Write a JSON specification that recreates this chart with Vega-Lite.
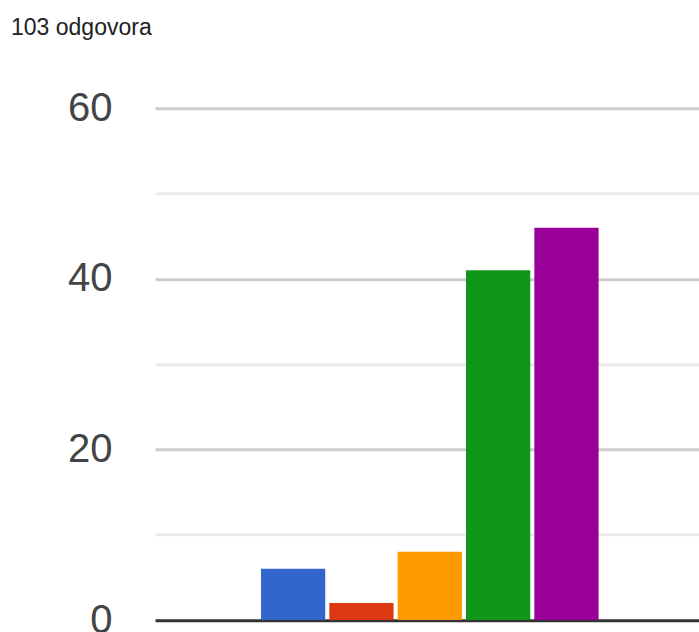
{
  "$schema": "https://vega.github.io/schema/vega-lite/v6.json",
  "autosize": {"type": "none"},
  "padding": {"left": 155, "top": 108.3, "right": 0, "bottom": 12},
  "width": 544,
  "height": 511.7,
  "background": "#ffffff",
  "title": {
    "text": "103 odgovora",
    "anchor": "start",
    "frame": "group",
    "orient": "top",
    "dx": -144,
    "dy": -48,
    "font": "Liberation Sans",
    "fontSize": 23,
    "fontWeight": "normal",
    "color": "#202124",
    "offset": 0
  },
  "data": {
    "values": [
      {"option": "1", "count": 6},
      {"option": "2", "count": 2},
      {"option": "3", "count": 8},
      {"option": "4", "count": 41},
      {"option": "5", "count": 46}
    ]
  },
  "mark": {"type": "bar"},
  "encoding": {
    "x": {
      "field": "option",
      "type": "nominal",
      "sort": null,
      "scale": {"domain": ["_a", "1", "2", "3", "4", "5", "_b"], "paddingInner": 0.06, "paddingOuter": 0.51, "align": 0.54},
      "axis": {
        "title": null,
        "labels": false,
        "ticks": false,
        "domain": false,
        "grid": false
      }
    },
    "y": {
      "field": "count",
      "type": "quantitative",
      "scale": {"domain": [0, 60], "nice": false},
      "axis": {
        "title": null,
        "values": [0, 10, 20, 30, 40, 50, 60],
        "labelExpr": "datum.value % 20 === 0 ? datum.label : ''",
        "labelFont": "Liberation Sans",
        "labelFontSize": 40,
        "labelColor": "#444444",
        "labelPadding": 43,
        "ticks": false,
        "tickSize": 0,
        "domain": false,
        "grid": true,
        "gridColor": {"condition": [{"test": "datum.value === 0", "value": "#333333"}, {"test": "datum.value % 20 === 0", "value": "#cccccc"}], "value": "#ebebeb"},
        "gridWidth": 3,
        "labelBaseline": "middle"
      }
    },
    "color": {
      "field": "option",
      "type": "nominal",
      "sort": null,
      "scale": {"domain": ["1", "2", "3", "4", "5"], "range": ["#3366cc", "#dc3912", "#ff9900", "#109618", "#990099"]},
      "legend": null
    }
  },
  "config": {"view": {"stroke": null}}
}
